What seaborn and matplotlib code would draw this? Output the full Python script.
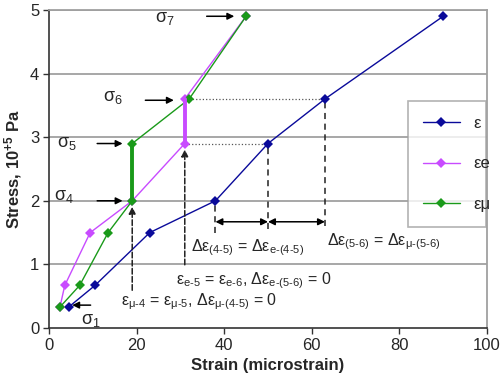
import seaborn as sns
import matplotlib.pyplot as plt
import pandas as pd

# strain (microstrain) and stress (10^5 Pa) for the three curves
eps_x = [4.5, 10.5, 23, 38, 50, 63, 90]
eps_y = [0.33, 0.67, 1.5, 2.0, 2.9, 3.6, 4.9]
epse_x = [2.5, 3.6, 9.4, 19, 31, 31, 45]
epse_y = [0.33, 0.67, 1.5, 2.0, 2.9, 3.6, 4.9]
epsm_x = [2.5, 7.0, 13.5, 19, 19, 32, 45]
epsm_y = [0.33, 0.67, 1.5, 2.0, 2.9, 3.6, 4.9]
labels = ['ε', 'εe', 'εμ']
colors = ['#0a0a9a', '#c84bff', '#1a9a1a']

frames = []
for lab, xs, ys in zip(labels, [eps_x, epse_x, epsm_x], [eps_y, epse_y, epsm_y]):
    frames.append(pd.DataFrame({'strain': xs, 'stress': ys, 'series': lab}))
df = pd.concat(frames, ignore_index=True)

sns.set_theme(style='white')
plt.rcParams['font.family'] = ['Liberation Sans', 'DejaVu Sans']
plt.rcParams['mathtext.fontset'] = 'custom'
plt.rcParams['mathtext.rm'] = 'Liberation Sans'
plt.rcParams['mathtext.it'] = 'Liberation Sans'
plt.rcParams['mathtext.bf'] = 'Liberation Sans:bold'
plt.rcParams['mathtext.default'] = 'regular'

fig = plt.figure(figsize=(5, 3.81), dpi=100)
ax = fig.add_axes([0.098, 0.139, 0.876, 0.835])

for y in [1, 2, 3, 4, 5]:
    ax.axhline(y, color='#a0a0a0', lw=1.3, zorder=0)

# guide lines
ax.plot([epsm_x[5], eps_x[5]], [3.6, 3.6], ':', color='#555555', lw=0.9)
ax.plot([epse_x[4], eps_x[4]], [2.9, 2.9], ':', color='#555555', lw=0.9)
for x, top, bot in [(eps_x[3], 2.0, 1.5), (eps_x[4], 2.9, 1.55), (eps_x[5], 3.6, 1.6)]:
    ax.plot([x, x], [bot, top], '--', color='#222222', lw=1.1, dashes=(4, 3))
ax.annotate('', xy=(19, 1.95), xytext=(19, 0.55),
            arrowprops=dict(arrowstyle='-|>', ls='--', color='#222222', lw=1.1, mutation_scale=10))
ax.annotate('', xy=(31, 2.85), xytext=(31, 0.95),
            arrowprops=dict(arrowstyle='-|>', ls='--', color='#222222', lw=1.1, mutation_scale=10))
# double arrows
ax.annotate('', xy=(38, 1.67), xytext=(50, 1.67),
            arrowprops=dict(arrowstyle='<|-|>', color='black', lw=1.1, mutation_scale=10, shrinkA=0, shrinkB=0))
ax.annotate('', xy=(50, 1.67), xytext=(63, 1.67),
            arrowprops=dict(arrowstyle='<|-|>', color='black', lw=1.1, mutation_scale=10, shrinkA=0, shrinkB=0))

sns.lineplot(data=df, x='strain', y='stress', hue='series', palette=colors, sort=False,
             estimator=None, marker='D', markersize=5, markeredgewidth=0, lw=1, ax=ax)

# thick vertical steps
ax.plot(epsm_x[3:5], epsm_y[3:5], color=colors[2], lw=2.8, zorder=3)
ax.plot(epse_x[4:6], epse_y[4:6], color=colors[1], lw=2.8, zorder=3)

# sigma markers
arrow = dict(arrowstyle='-|>', color='black', lw=1.1, mutation_scale=10, shrinkA=0, shrinkB=0)
fs = 13
ax.text(26.5, 4.87, 'σ$_7$', fontsize=fs, ha='center', va='center')
ax.annotate('', xy=(42.3, 4.9), xytext=(36, 4.9), arrowprops=arrow)
ax.text(14.5, 3.62, 'σ$_6$', fontsize=fs, ha='center', va='center')
ax.annotate('', xy=(28.5, 3.58), xytext=(22, 3.58), arrowprops=arrow)
ax.text(4, 2.9, 'σ$_5$', fontsize=fs, ha='center', va='center')
ax.annotate('', xy=(16.8, 2.9), xytext=(11, 2.9), arrowprops=arrow)
ax.text(3.5, 2.07, 'σ$_4$', fontsize=fs, ha='center', va='center')
ax.annotate('', xy=(16.8, 2.0), xytext=(11, 2.0), arrowprops=arrow)
ax.text(9.5, 0.12, 'σ$_1$', fontsize=fs, ha='center', va='center')
ax.annotate('', xy=(5.3, 0.36), xytext=(9.5, 0.36), arrowprops=arrow)

h = '\u2010'
tf = 11.5
ax.text(32.5, 1.27, f'Δε$_{{(4{h}5)}}$ = Δε$_{{e{h}(4{h}5)}}$', fontsize=tf, va='center')
ax.text(63.5, 1.35, f'Δε$_{{(5{h}6)}}$ = Δε$_{{μ{h}(5{h}6)}}$', fontsize=tf, va='center')
ax.text(29, 0.75, f'ε$_{{e{h}5}}$ = ε$_{{e{h}6}}$, Δε$_{{e{h}(5{h}6)}}$ = 0', fontsize=tf, va='center')
ax.text(16.5, 0.42, f'ε$_{{μ{h}4}}$ = ε$_{{μ{h}5}}$, Δε$_{{μ{h}(4{h}5)}}$ = 0', fontsize=tf, va='center')

ax.set_xlim(0, 100)
ax.set_ylim(0, 5)
ax.set_xticks([0, 20, 40, 60, 80, 100])
ax.set_yticks([0, 1, 2, 3, 4, 5])
ax.tick_params(axis='both', labelsize=12, length=4, width=1, color='#333333', direction='out',
               bottom=True, left=True, pad=3)
ax.set_xlabel('Strain (microstrain)', fontsize=12, fontweight='bold')
ax.set_ylabel(r'Stress, 10$^{\mathbf{+5}}$ Pa', fontsize=12, fontweight='bold')
for side in ['left', 'bottom']:
    ax.spines[side].set_color('#333333')
    ax.spines[side].set_linewidth(1.2)
for side in ['top', 'right']:
    ax.spines[side].set_color('#a0a0a0')
    ax.spines[side].set_linewidth(1.3)

leg = ax.legend(loc='upper left', bbox_to_anchor=(0.82, 0.37, 0.177, 0.345), mode='expand',
                fontsize=12, frameon=True, fancybox=False, edgecolor='#a0a0a0', labelspacing=1.55,
                handlelength=2.2, borderaxespad=0, borderpad=0.9, title=None)
leg.get_frame().set_linewidth(1.2)

fig.savefig('out.png', dpi=100)
